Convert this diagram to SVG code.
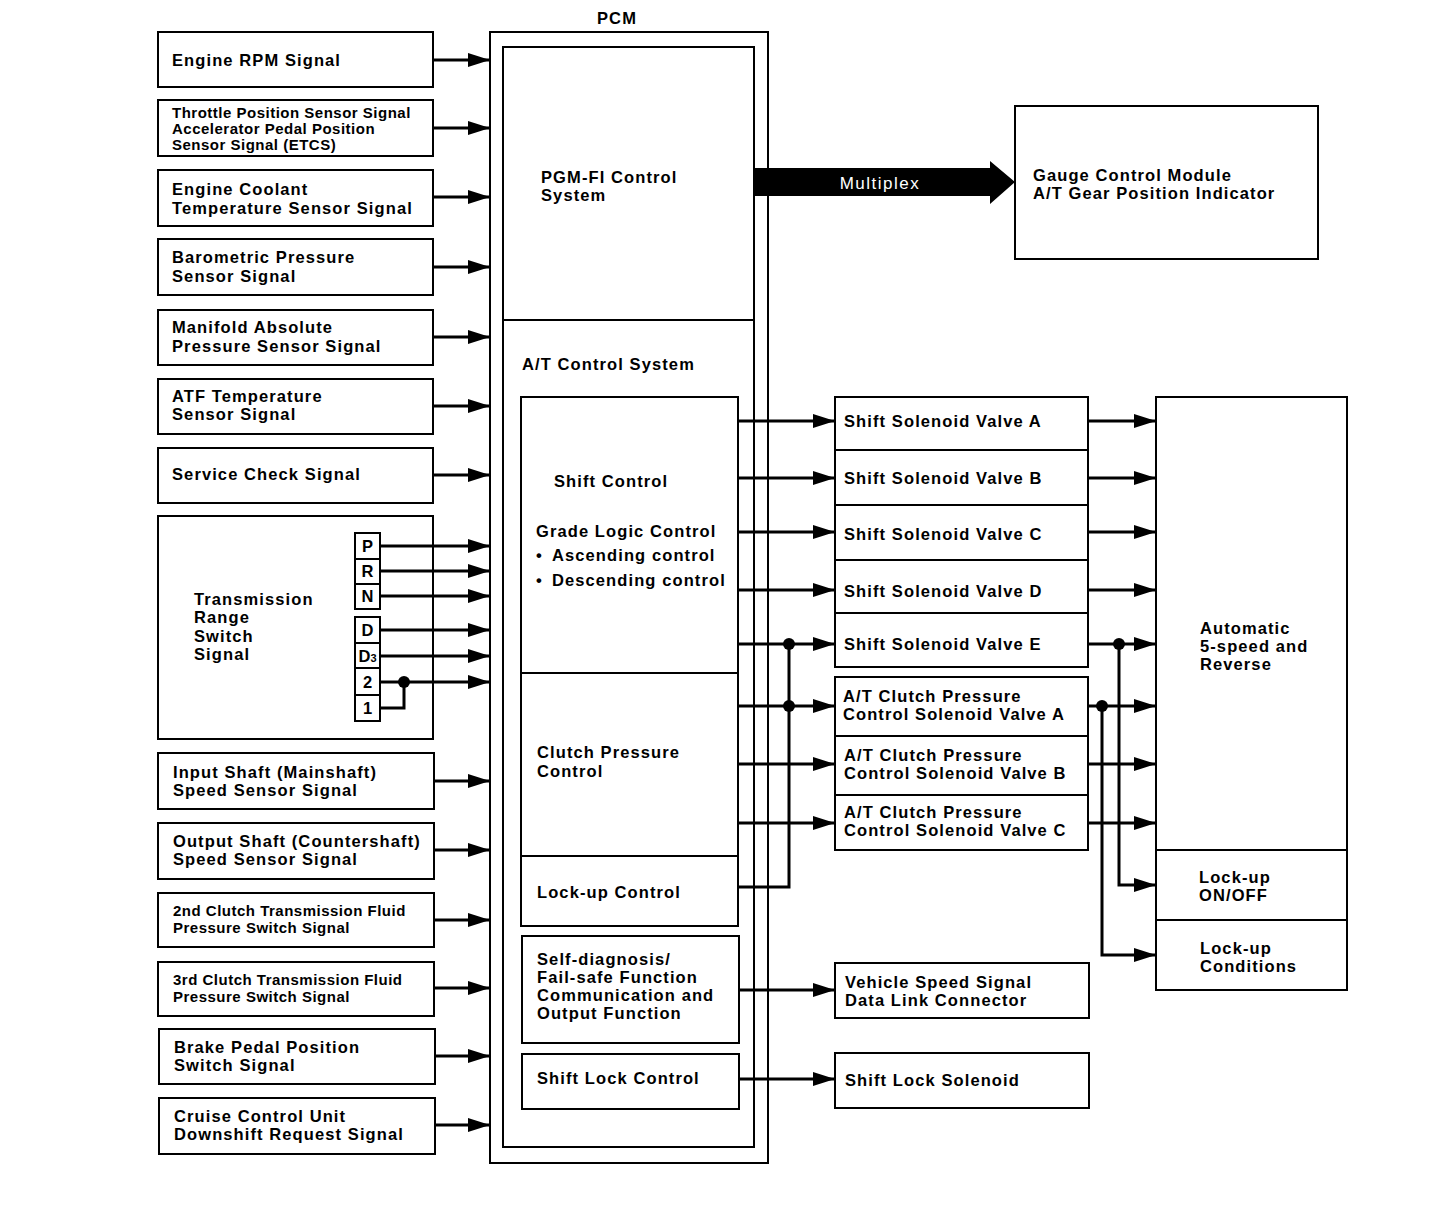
<svg xmlns="http://www.w3.org/2000/svg" width="1456" height="1210" viewBox="0 0 1456 1210">
<style>
.box{fill:#fff;stroke:#000;stroke-width:2}
.ln{fill:none;stroke:#000;stroke-width:2}
.t{font-family:"Liberation Sans",Arial,sans-serif;font-weight:bold;font-size:16.5px;letter-spacing:1.1px;fill:#000}
.s{font-size:15px;letter-spacing:0.5px}
.k{letter-spacing:0}
.c{fill:none;stroke:#000;stroke-width:3}
.ca{fill:none;stroke:#000;stroke-width:3;marker-end:url(#ah)}
.dot{fill:#000}
</style>
<defs>
<marker id="ah" viewBox="0 0 22 14" refX="22" refY="7" markerWidth="22" markerHeight="14" markerUnits="userSpaceOnUse" orient="auto">
<path d="M0,0 L22,7 L0,14 z" fill="#000"/>
</marker>
</defs>
<rect width="1456" height="1210" fill="#fff"/>

<!-- Left inputs -->
<g id="n-rpm"><rect class="box" x="158" y="32" width="275" height="55"/><text class="t" x="172" y="66">Engine RPM Signal</text></g>
<g id="n-tps"><rect class="box" x="158" y="100" width="275" height="56"/><text class="t s" x="172" y="118">Throttle Position Sensor Signal</text><text class="t s" x="172" y="134">Accelerator Pedal Position</text><text class="t s" x="172" y="150">Sensor Signal (ETCS)</text></g>
<g id="n-ect"><rect class="box" x="158" y="170" width="275" height="56"/><text class="t" x="172" y="195">Engine Coolant</text><text class="t" x="172" y="214">Temperature Sensor Signal</text></g>
<g id="n-baro"><rect class="box" x="158" y="239" width="275" height="56"/><text class="t" x="172" y="263">Barometric Pressure</text><text class="t" x="172" y="282">Sensor Signal</text></g>
<g id="n-map"><rect class="box" x="158" y="310" width="275" height="55"/><text class="t" x="172" y="333">Manifold Absolute</text><text class="t" x="172" y="352">Pressure Sensor Signal</text></g>
<g id="n-atf"><rect class="box" x="158" y="379" width="275" height="55"/><text class="t" x="172" y="402">ATF Temperature</text><text class="t" x="172" y="420">Sensor Signal</text></g>
<g id="n-svc"><rect class="box" x="158" y="448" width="275" height="55"/><text class="t" x="172" y="480">Service Check Signal</text></g>
<g id="n-range"><rect class="box" x="158" y="516" width="275" height="223"/>
<text class="t" x="194" y="605">Transmission</text><text class="t" x="194" y="623">Range</text><text class="t" x="194" y="642">Switch</text><text class="t" x="194" y="660">Signal</text>
<rect class="box" x="355" y="533" width="25" height="26"/><text class="t k" x="367.5" y="552" text-anchor="middle">P</text>
<rect class="box" x="355" y="559" width="25" height="25"/><text class="t k" x="367.5" y="577" text-anchor="middle">R</text>
<rect class="box" x="355" y="584" width="25" height="25"/><text class="t k" x="367.5" y="602" text-anchor="middle">N</text>
<rect class="box" x="355" y="617" width="25" height="26"/><text class="t k" x="367.5" y="636" text-anchor="middle">D</text>
<rect class="box" x="355" y="643" width="25" height="25"/><text class="t k" x="367.5" y="662" text-anchor="middle">D<tspan font-size="11">3</tspan></text>
<rect class="box" x="355" y="668" width="25" height="27"/><text class="t k" x="367.5" y="688" text-anchor="middle">2</text>
<rect class="box" x="355" y="695" width="25" height="26"/><text class="t k" x="367.5" y="714" text-anchor="middle">1</text>
</g>
<g id="n-input"><rect class="box" x="158" y="753" width="276" height="56"/><text class="t" x="173" y="778">Input Shaft (Mainshaft)</text><text class="t" x="173" y="796">Speed Sensor Signal</text></g>
<g id="n-output"><rect class="box" x="158" y="823" width="276" height="56"/><text class="t" x="173" y="847">Output Shaft (Countershaft)</text><text class="t" x="173" y="865">Speed Sensor Signal</text></g>
<g id="n-2nd"><rect class="box" x="158" y="893" width="276" height="54"/><text class="t s" x="173" y="916">2nd Clutch Transmission Fluid</text><text class="t s" x="173" y="933">Pressure Switch Signal</text></g>
<g id="n-3rd"><rect class="box" x="158" y="962" width="276" height="54"/><text class="t s" x="173" y="985">3rd Clutch Transmission Fluid</text><text class="t s" x="173" y="1002">Pressure Switch Signal</text></g>
<g id="n-brake"><rect class="box" x="159" y="1029" width="276" height="55"/><text class="t" x="174" y="1053">Brake Pedal Position</text><text class="t" x="174" y="1071">Switch Signal</text></g>
<g id="n-cruise"><rect class="box" x="159" y="1098" width="276" height="56"/><text class="t" x="174" y="1122">Cruise Control Unit</text><text class="t" x="174" y="1140">Downshift Request Signal</text></g>

<!-- PCM -->
<g id="n-pcm">
<text class="t" x="617" y="24" text-anchor="middle">PCM</text>
<rect class="box" x="490" y="32" width="278" height="1131"/>
<rect class="box" x="503" y="47" width="251" height="1100"/>
<line class="ln" x1="503" y1="320" x2="754" y2="320"/>
<text class="t" x="541" y="183">PGM-FI Control</text><text class="t" x="541" y="201">System</text>
<text class="t" x="522" y="370">A/T Control System</text>
</g>
<g id="n-shift"><rect class="box" x="521" y="397" width="217" height="276"/>
<text class="t" x="554" y="487">Shift Control</text>
<text class="t" x="536" y="537">Grade Logic Control</text>
<text class="t" x="536" y="561">•</text><text class="t" x="552" y="561">Ascending control</text>
<text class="t" x="536" y="586">•</text><text class="t" x="552" y="586">Descending control</text>
</g>
<g id="n-clutch"><rect class="box" x="521" y="673" width="217" height="183"/><text class="t" x="537" y="758">Clutch Pressure</text><text class="t" x="537" y="777">Control</text></g>
<g id="n-lockup"><rect class="box" x="521" y="856" width="217" height="70"/><text class="t" x="537" y="898">Lock-up Control</text></g>
<g id="n-diag"><rect class="box" x="522" y="936" width="217" height="107"/><text class="t" x="537" y="965">Self-diagnosis/</text><text class="t" x="537" y="983">Fail-safe Function</text><text class="t" x="537" y="1001">Communication and</text><text class="t" x="537" y="1019">Output Function</text></g>
<g id="n-shiftlock"><rect class="box" x="522" y="1054" width="217" height="55"/><text class="t" x="537" y="1084">Shift Lock Control</text></g>

<!-- Gauge -->
<g id="n-gauge"><rect class="box" x="1015" y="106" width="303" height="153"/><text class="t" x="1033" y="181">Gauge Control Module</text><text class="t" x="1033" y="199">A/T Gear Position Indicator</text></g>

<!-- Valves -->
<g id="n-ssa"><rect class="box" x="835" y="397" width="253" height="53"/><text class="t" x="844" y="427">Shift Solenoid Valve A</text></g>
<g id="n-ssb"><rect class="box" x="835" y="450" width="253" height="55"/><text class="t" x="844" y="484">Shift Solenoid Valve B</text></g>
<g id="n-ssc"><rect class="box" x="835" y="505" width="253" height="55"/><text class="t" x="844" y="540">Shift Solenoid Valve C</text></g>
<g id="n-ssd"><rect class="box" x="835" y="560" width="253" height="53"/><text class="t" x="844" y="597">Shift Solenoid Valve D</text></g>
<g id="n-sse"><rect class="box" x="835" y="613" width="253" height="54"/><text class="t" x="844" y="650">Shift Solenoid Valve E</text></g>
<g id="n-cpa"><rect class="box" x="835" y="677" width="253" height="59"/><text class="t" x="843" y="702">A/T Clutch Pressure</text><text class="t" x="843" y="720">Control Solenoid Valve A</text></g>
<g id="n-cpb"><rect class="box" x="835" y="736" width="253" height="59"/><text class="t" x="844" y="761">A/T Clutch Pressure</text><text class="t" x="844" y="779">Control Solenoid Valve B</text></g>
<g id="n-cpc"><rect class="box" x="835" y="795" width="253" height="55"/><text class="t" x="844" y="818">A/T Clutch Pressure</text><text class="t" x="844" y="836">Control Solenoid Valve C</text></g>
<g id="n-vss"><rect class="box" x="835" y="963" width="254" height="55"/><text class="t" x="845" y="988">Vehicle Speed Signal</text><text class="t" x="845" y="1006">Data Link Connector</text></g>
<g id="n-sls"><rect class="box" x="835" y="1053" width="254" height="55"/><text class="t" x="845" y="1086">Shift Lock Solenoid</text></g>

<!-- Transmission -->
<g id="n-auto"><rect class="box" x="1156" y="397" width="191" height="453"/><text class="t" x="1200" y="634">Automatic</text><text class="t" x="1200" y="652">5-speed and</text><text class="t" x="1200" y="670">Reverse</text></g>
<g id="n-luonoff"><rect class="box" x="1156" y="850" width="191" height="70"/><text class="t" x="1199" y="883">Lock-up</text><text class="t" x="1199" y="901">ON/OFF</text></g>
<g id="n-lucond"><rect class="box" x="1156" y="920" width="191" height="70"/><text class="t" x="1200" y="954">Lock-up</text><text class="t" x="1200" y="972">Conditions</text></g>

<!-- Connectors -->
<g id="connectors">
<line class="ca" x1="433" y1="60" x2="490" y2="60"/>
<line class="ca" x1="433" y1="128" x2="490" y2="128"/>
<line class="ca" x1="433" y1="197" x2="490" y2="197"/>
<line class="ca" x1="433" y1="267" x2="490" y2="267"/>
<line class="ca" x1="433" y1="337" x2="490" y2="337"/>
<line class="ca" x1="433" y1="406" x2="490" y2="406"/>
<line class="ca" x1="433" y1="475" x2="490" y2="475"/>
<line class="ca" x1="380" y1="546" x2="490" y2="546"/>
<line class="ca" x1="380" y1="571" x2="490" y2="571"/>
<line class="ca" x1="380" y1="596" x2="490" y2="596"/>
<line class="ca" x1="380" y1="630" x2="490" y2="630"/>
<line class="ca" x1="380" y1="656" x2="490" y2="656"/>
<line class="ca" x1="380" y1="682" x2="490" y2="682"/>
<polyline class="c" points="380,708 404,708 404,682"/>
<circle class="dot" cx="404" cy="682" r="6"/>
<line class="ca" x1="434" y1="781" x2="490" y2="781"/>
<line class="ca" x1="434" y1="850" x2="490" y2="850"/>
<line class="ca" x1="434" y1="920" x2="490" y2="920"/>
<line class="ca" x1="434" y1="988" x2="490" y2="988"/>
<line class="ca" x1="435" y1="1056" x2="490" y2="1056"/>
<line class="ca" x1="435" y1="1125" x2="490" y2="1125"/>

<g id="multiplex">
<path d="M754,168 L990,168 L990,161 L1015,182 L990,204 L990,196 L754,196 z" fill="#000"/>
<text x="880" y="189" text-anchor="middle" font-family="'Liberation Sans',Arial,sans-serif" font-size="17" letter-spacing="1.5" fill="#fff">Multiplex</text>
</g>

<line class="ca" x1="738" y1="421" x2="835" y2="421"/>
<line class="ca" x1="738" y1="478" x2="835" y2="478"/>
<line class="ca" x1="738" y1="532" x2="835" y2="532"/>
<line class="ca" x1="738" y1="590" x2="835" y2="590"/>
<line class="ca" x1="738" y1="644" x2="835" y2="644"/>
<line class="ca" x1="738" y1="706" x2="835" y2="706"/>
<line class="ca" x1="738" y1="764" x2="835" y2="764"/>
<line class="ca" x1="738" y1="823" x2="835" y2="823"/>
<polyline class="c" points="738,887 789,887 789,644"/>
<circle class="dot" cx="789" cy="644" r="6"/>
<circle class="dot" cx="789" cy="706" r="6"/>
<line class="ca" x1="739" y1="990" x2="835" y2="990"/>
<line class="ca" x1="739" y1="1079" x2="835" y2="1079"/>

<line class="ca" x1="1088" y1="421" x2="1156" y2="421"/>
<line class="ca" x1="1088" y1="478" x2="1156" y2="478"/>
<line class="ca" x1="1088" y1="532" x2="1156" y2="532"/>
<line class="ca" x1="1088" y1="590" x2="1156" y2="590"/>
<line class="ca" x1="1088" y1="644" x2="1156" y2="644"/>
<line class="ca" x1="1088" y1="706" x2="1156" y2="706"/>
<line class="ca" x1="1088" y1="764" x2="1156" y2="764"/>
<line class="ca" x1="1088" y1="823" x2="1156" y2="823"/>
<polyline class="ca" points="1119,644 1119,885 1156,885"/>
<polyline class="ca" points="1102,706 1102,955 1156,955"/>
<circle class="dot" cx="1119" cy="644" r="6"/>
<circle class="dot" cx="1102" cy="706" r="6"/>
</g>
</svg>
